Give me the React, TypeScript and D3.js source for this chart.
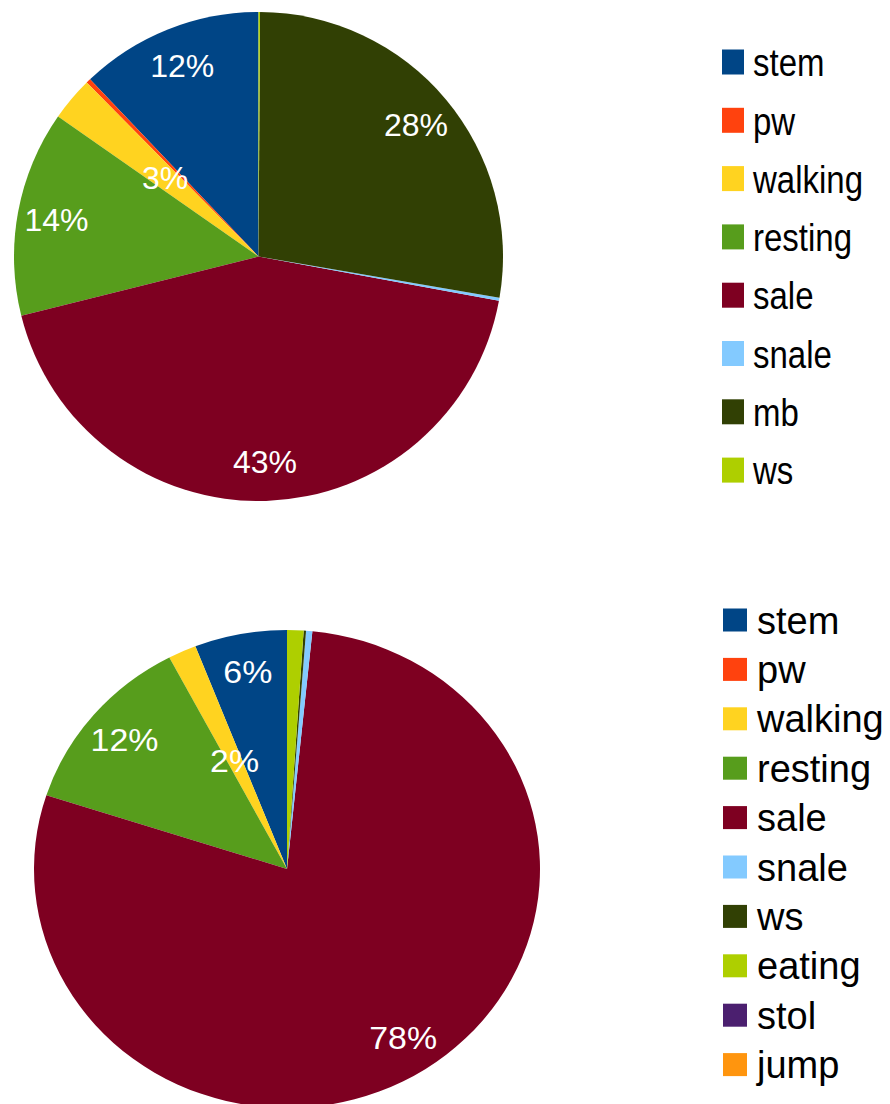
import React from "react";
import * as d3 from "d3";

const palette = ["#004586", "#ff420e", "#ffd320", "#579d1c", "#7e0021", "#83caff", "#314004", "#aecf00", "#4b1f6f", "#ff950e"];

const topCategories = ["stem", "pw", "walking", "resting", "sale", "snale", "mb", "ws"];
const topValues = [12.1, 0.3, 2.9, 13.6, 43.2, 0.2, 27.6, 0.1];

const bottomCategories = ["stem", "pw", "walking", "resting", "sale", "snale", "ws", "eating", "stol", "jump"];
const bottomValues = [5.9, 0, 1.8, 12.3, 78.4, 0.4, 0.15, 1.05, 0, 0];

const FONT = "'Liberation Sans', Arial, sans-serif";

type PieProps = {
  values: number[];
  cx: number;
  cy: number;
  r: number;
  sy: number;
  labelSize: number;
  labelSx: number;
};

function Pie({ values, cx, cy, r, sy, labelSize, labelSx }: PieProps) {
  const pie = d3.pie<number>().sort(null).value((d) => d).startAngle(0).endAngle(-2 * Math.PI);
  const arcs = pie(values);
  const arc = d3.arc<d3.PieArcDatum<number>>().innerRadius(0).outerRadius(r);
  const total = d3.sum(values);
  return (
    <g>
      <g transform={`translate(${cx},${cy}) scale(1,${sy})`}>
        {arcs.map((a, i) =>
          a.value > 0 ? <path key={i} d={arc(a) || ""} fill={palette[i]} /> : null
        )}
      </g>
      {arcs.map((a, i) => {
        const pct = (a.value / total) * 100;
        if (pct < 1.5) return null;
        const mid = (a.startAngle + a.endAngle) / 2;
        const rr = pct < 5 ? r * 0.5 : r * 0.84;
        const x = cx + Math.sin(mid) * rr;
        const y = cy - Math.cos(mid) * rr * sy;
        return (
          <text
            key={"l" + i}
            transform={`translate(${x},${y}) scale(${labelSx},1)`}
            textAnchor="middle"
            dy="0.36em"
            fill="#ffffff"
            fontFamily={FONT}
            fontSize={labelSize}
          >
            {`${Math.round(pct)}%`}
          </text>
        );
      })}
    </g>
  );
}

type LegendProps = {
  cats: string[];
  x: number;
  y0: number;
  step: number;
  sw: number;
  sh: number;
  tx: number;
  fontSize: number;
  tsx: number;
  tsy: number;
};

function Legend({ cats, x, y0, step, sw, sh, tx, fontSize, tsx, tsy }: LegendProps) {
  return (
    <g>
      {cats.map((c, i) => {
        const y = y0 + i * step;
        return (
          <g key={c + i}>
            <rect x={x} y={y - sh / 2} width={sw} height={sh} fill={palette[i]} />
            <text
              transform={`translate(${tx},${y}) scale(${tsx},${tsy})`}
              dy="0.36em"
              fill="#000"
              fontFamily={FONT}
              fontSize={fontSize}
            >
              {c}
            </text>
          </g>
        );
      })}
    </g>
  );
}

export default function App() {
  return (
    <svg
      width={890}
      height={1104}
      style={{ position: "absolute", left: 0, top: 0, display: "block", background: "#fff" }}
    >
      <rect width={890} height={1104} fill="#fff" />
      <Pie values={topValues} cx={258.5} cy={256.5} r={244.5} sy={1} labelSize={32} labelSx={1} />
      <Legend cats={topCategories} x={722} y0={62} step={58.3} sw={22} sh={25} tx={753} fontSize={33} tsx={1} tsy={1.2} />
      <Pie values={bottomValues} cx={287} cy={869} r={253} sy={239 / 253} labelSize={32} labelSx={1.06} />
      <Legend cats={bottomCategories} x={723} y0={620} step={49.4} sw={24} sh={23} tx={757} fontSize={38} tsx={1} tsy={1} />
    </svg>
  );
}
